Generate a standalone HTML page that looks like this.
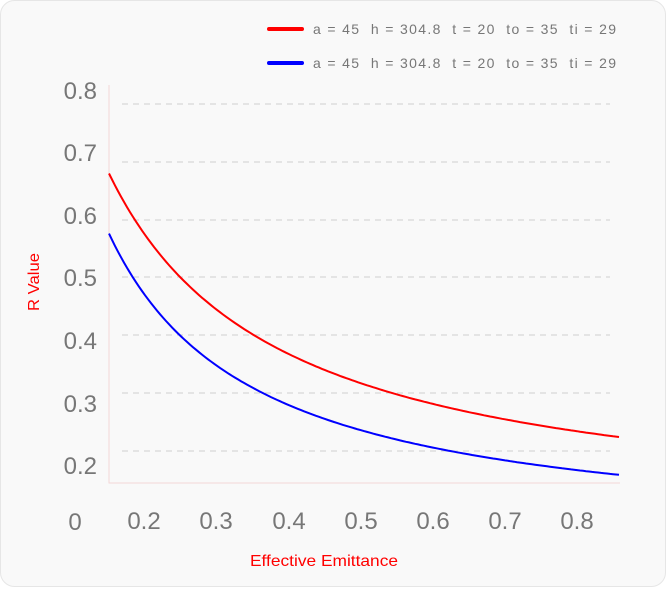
<!DOCTYPE html>
<html><head><meta charset="utf-8"><style>
html,body{margin:0;padding:0;background:#fff;}
body{width:666px;height:587px;overflow:hidden;}
text{font-family:"Liberation Sans",sans-serif;white-space:pre;}
</style></head><body>
<svg width="666" height="587" xmlns="http://www.w3.org/2000/svg">
<rect x="0.5" y="0.5" width="665" height="586" rx="14" fill="#f9f9f9" stroke="#e6e6e6"/>
<line x1="269" y1="29" x2="302" y2="29" stroke="#ff0000" stroke-width="4" stroke-linecap="round"/>
<line x1="269" y1="63" x2="302" y2="63" stroke="#0000ff" stroke-width="4" stroke-linecap="round"/>
<text x="313" y="34" font-size="14" fill="#777" textLength="303" lengthAdjust="spacing">a = 45  h = 304.8  t = 20  to = 35  ti = 29</text>
<text x="313" y="68" font-size="14" fill="#777" textLength="303" lengthAdjust="spacing">a = 45  h = 304.8  t = 20  to = 35  ti = 29</text>
<g stroke="#d0d0d0" stroke-dasharray="6,5" stroke-width="1">
<line x1="122" y1="104" x2="610" y2="104"/><line x1="122" y1="162" x2="610" y2="162"/>
<line x1="122" y1="220" x2="610" y2="220"/><line x1="122" y1="277" x2="610" y2="277"/>
<line x1="122" y1="335" x2="610" y2="335"/><line x1="122" y1="393" x2="610" y2="393"/>
<line x1="122" y1="451" x2="610" y2="451"/>
</g>
<polyline points="109,85 109,483 620,483" fill="none" stroke="#f3d8d8" stroke-width="1"/>
<g font-size="24" fill="#777" text-anchor="end">
<text x="97" y="99">0.8</text><text x="97" y="161">0.7</text><text x="97" y="224">0.6</text>
<text x="97" y="286">0.5</text><text x="97" y="349">0.4</text><text x="97" y="412">0.3</text>
<text x="97" y="474">0.2</text></g>
<g font-size="24" fill="#777" text-anchor="middle">
<text x="75" y="530">0</text><text x="144" y="529">0.2</text><text x="216" y="529">0.3</text>
<text x="289" y="529">0.4</text><text x="361" y="529">0.5</text><text x="433" y="529">0.6</text>
<text x="505" y="529">0.7</text><text x="577" y="529">0.8</text></g>
<text x="250" y="566" font-size="16" fill="#ff0000" textLength="148" lengthAdjust="spacingAndGlyphs">Effective Emittance</text>
<text transform="translate(39,311) rotate(-90)" font-size="16" fill="#ff0000" textLength="58" lengthAdjust="spacingAndGlyphs">R Value</text>
<path id="r" fill="none" stroke="#ff0000" stroke-width="2"/>
<path id="b" fill="none" stroke="#0000ff" stroke-width="2"/>
</svg>
<script>
function mk(A,B,c){var d="";for(var x=109;x<=620;x+=3){var e=0.2+(x-144)/720;var y=A+B/(e+c);d+=(d?"L":"M")+x+","+y.toFixed(1);}return d;}
document.getElementById("r").setAttribute("d",mk(525.0,-83.1,0.085));
document.getElementById("b").setAttribute("d",mk(543.4,-62.4,0.05));
</script>
</body></html>
